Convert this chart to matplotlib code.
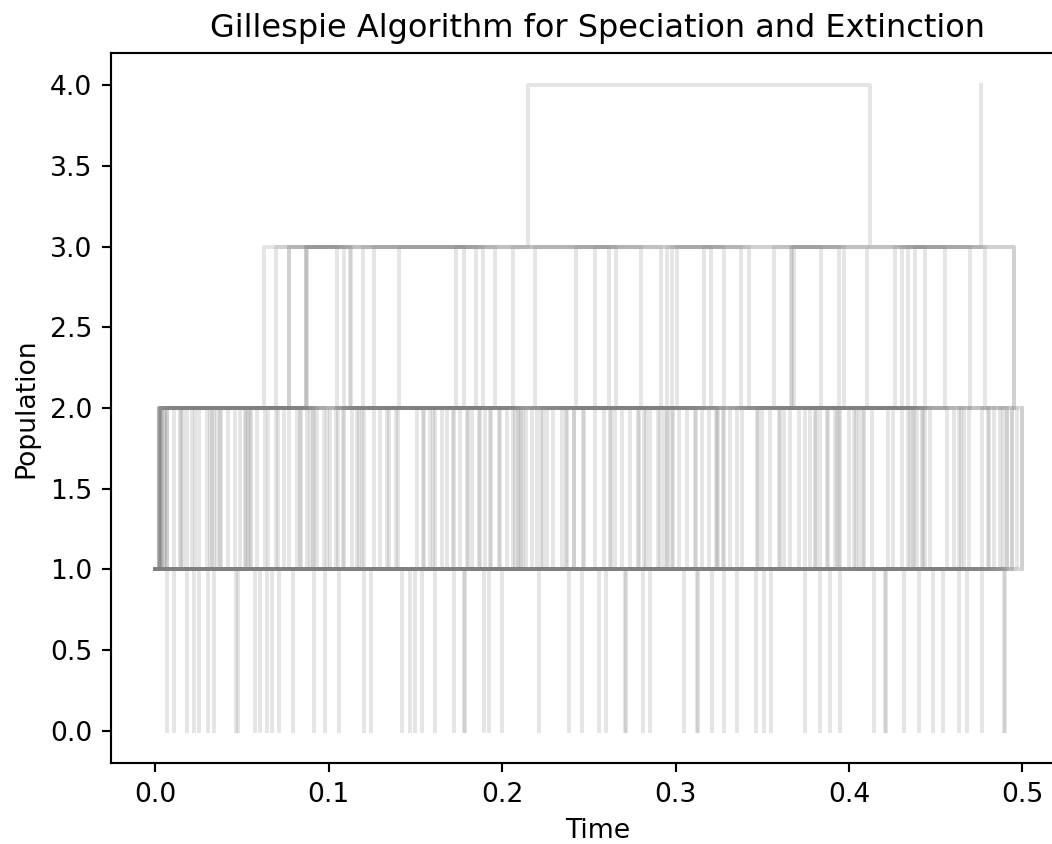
import matplotlib
matplotlib.use("Agg")
import matplotlib.pyplot as plt

# Times of the jumps.
# 1 -> 0 drops (each one ends a run that sat at 1)
extinction_times = [
    0.0067, 0.0106, 0.0183, 0.0221, 0.0250, 0.0307, 0.0336, 0.0465, 0.0477,
    0.0577, 0.0606, 0.0644, 0.0673, 0.0711, 0.0792, 0.0913, 0.0980, 0.1061,
    0.1205, 0.1244, 0.1423, 0.1471, 0.1499, 0.1538, 0.1615, 0.1724, 0.1778,
    0.1784, 0.1893, 0.1922, 0.2000, 0.2211, 0.2384, 0.2461, 0.2557, 0.2601,
    0.2710, 0.2716, 0.2813, 0.2855, 0.3047, 0.3124, 0.3130, 0.3210, 0.3277,
    0.3355, 0.3466, 0.3512, 0.3552, 0.3749, 0.3831, 0.3893, 0.3950, 0.4142,
    0.4206, 0.4212, 0.4319, 0.4402, 0.4483, 0.4543, 0.4633, 0.4681, 0.4768,
    0.4896, 0.4902,
]

# jumps between 1 and 2 (sorted)
switch_12 = [
    0.0019, 0.0023, 0.0048, 0.0067, 0.0106, 0.0141, 0.0146, 0.0163, 0.0183,
    0.0212, 0.0231, 0.0250, 0.0298, 0.0327, 0.0356, 0.0372, 0.0378, 0.0417,
    0.0461, 0.0490, 0.0516, 0.0522, 0.0548, 0.0586, 0.0634, 0.0653, 0.0699,
    0.0705, 0.0740, 0.0769, 0.0817, 0.0836, 0.0875, 0.0910, 0.0916, 0.0933,
    0.0971, 0.1045, 0.1051, 0.1083, 0.1089, 0.1134, 0.1163, 0.1201, 0.1259,
    0.1298, 0.1336, 0.1391, 0.1397, 0.1509, 0.1544, 0.1550, 0.1586, 0.1615,
    0.1653, 0.1682, 0.1717, 0.1723, 0.1759, 0.1795, 0.1801, 0.1826, 0.1866,
    0.1872, 0.1903, 0.1929, 0.1935, 0.1984, 0.2028, 0.2065, 0.2090, 0.2096,
    0.2122, 0.2172, 0.2201, 0.2227, 0.2233, 0.2259, 0.2295, 0.2345, 0.2371,
    0.2377, 0.2416, 0.2468, 0.2537, 0.2585, 0.2621, 0.2627, 0.2653, 0.2691,
    0.2739, 0.2784, 0.2790, 0.2820, 0.2855, 0.2912, 0.2950, 0.2956, 0.2977,
    0.2983, 0.3018, 0.3066, 0.3111, 0.3117, 0.3153, 0.3191, 0.3232, 0.3238,
    0.3274, 0.3280, 0.3316, 0.3355, 0.3384, 0.3467, 0.3473, 0.3499, 0.3547,
    0.3595, 0.3623, 0.3662, 0.3710, 0.3749, 0.3777, 0.3803, 0.3809, 0.3835,
    0.3871, 0.3877, 0.3931, 0.3950, 0.3998, 0.4027, 0.4056, 0.4082, 0.4088,
    0.4133, 0.4227, 0.4256, 0.4306, 0.4341, 0.4367, 0.4373, 0.4393, 0.4419,
    0.4425, 0.4441, 0.4469, 0.4567, 0.4604, 0.4633, 0.4662, 0.4690, 0.4768,
    0.4803, 0.4809, 0.4835, 0.4873, 0.4912, 0.4941, 0.4971, 0.4998,
]
# more 1 <-> 2 jumps inside the wide grey bands
switch_12_extra = [
    0.0315, 0.0340, 0.0535, 0.0555, 0.0840, 0.0890, 0.0990, 0.1010, 0.1175,
    0.1190, 0.1350, 0.1600, 0.1985, 0.2075, 0.2110, 0.2140, 0.2415, 0.2475,
    0.2830, 0.2900, 0.2935, 0.3245, 0.3605, 0.3920, 0.3940, 0.4040, 0.4350,
    0.4645, 0.4890,
]
# runs that sit at 2 almost the whole time
long2_up = [0.0020, 0.0026, 0.0033]
long2_down = [0.4912, 0.4941, 0.4998]

# jumps between 2 and 3 (sorted)
switch_23 = [
    0.0696, 0.0769, 0.0869, 0.0875, 0.1048, 0.1090, 0.1121, 0.1127, 0.1198,
    0.1259, 0.1403, 0.1736, 0.1778, 0.1849, 0.1890, 0.1957, 0.2063, 0.2191,
    0.2428, 0.2537, 0.2614, 0.2659, 0.2801, 0.2916, 0.2953, 0.2982, 0.3009,
    0.3166, 0.3206, 0.3277, 0.3380, 0.3422, 0.3566, 0.3666, 0.3672, 0.3681,
    0.3841, 0.3941, 0.3969, 0.4104, 0.4268, 0.4308, 0.4343, 0.4383, 0.4440,
    0.4556, 0.4696, 0.4787,
]
# early 1 -> 2 jump of the runs that then move between 2 and 3
start_23 = [0.0025, 0.0040, 0.0055, 0.0070]

# runs that sit at 3 for a long stretch (two of them reach 4)
run3_times = [0.0, 0.0036, 0.0869, 0.4950]
run3_pops = [1, 2, 3, 2]
run4a_times = [0.0, 0.0021, 0.0625, 0.2147, 0.4119, 0.4950]
run4a_pops = [1, 2, 3, 4, 3, 2]
run4b_times = [0.0, 0.0030, 0.0769, 0.4764]
run4b_pops = [1, 2, 3, 4]

N_CHAINS_12 = 22
DPI = 192


def build_runs():
    runs = []
    for te in extinction_times:
        runs.append(([0.0, te], [1, 0]))
    all_12 = sorted(switch_12 + switch_12_extra)
    for k in range(N_CHAINS_12):
        ts = all_12[k::N_CHAINS_12]
        pops = [1] + [2 if i % 2 == 0 else 1 for i in range(len(ts))]
        runs.append(([0.0] + ts, pops))
    for up, down in zip(long2_up, long2_down):
        runs.append(([0.0, up, down], [1, 2, 1]))
    for k, t0 in enumerate(start_23):
        ts = switch_23[k::len(start_23)]
        pops = [1, 2] + [3 if i % 2 == 0 else 2 for i in range(len(ts))]
        runs.append(([0.0, t0] + ts, pops))
    runs.append((run3_times, run3_pops))
    runs.append((run4a_times, run4a_pops))
    runs.append((run4b_times, run4b_pops))
    return runs


def main():
    fig = plt.figure(figsize=(1052 / DPI, 844 / DPI), dpi=DPI)
    # axes run past the right edge of the picture, as in the reference
    ax = fig.add_axes([111 / 1052, 1 - 763 / 844, 973 / 1052, 710 / 844])

    for times, pops in build_runs():
        ax.step(times, pops, where="post", color="gray", alpha=0.2, lw=1.5)

    ax.set_xlim(-0.0255, 0.5355)
    ax.set_ylim(-0.2, 4.2)
    ax.spines["right"].set_visible(False)
    ax.set_title("Gillespie Algorithm for Speciation and Extinction")
    ax.set_xlabel("Time")
    ax.set_ylabel("Population")

    fig.savefig("out.png", dpi=DPI)


if __name__ == "__main__":
    main()
